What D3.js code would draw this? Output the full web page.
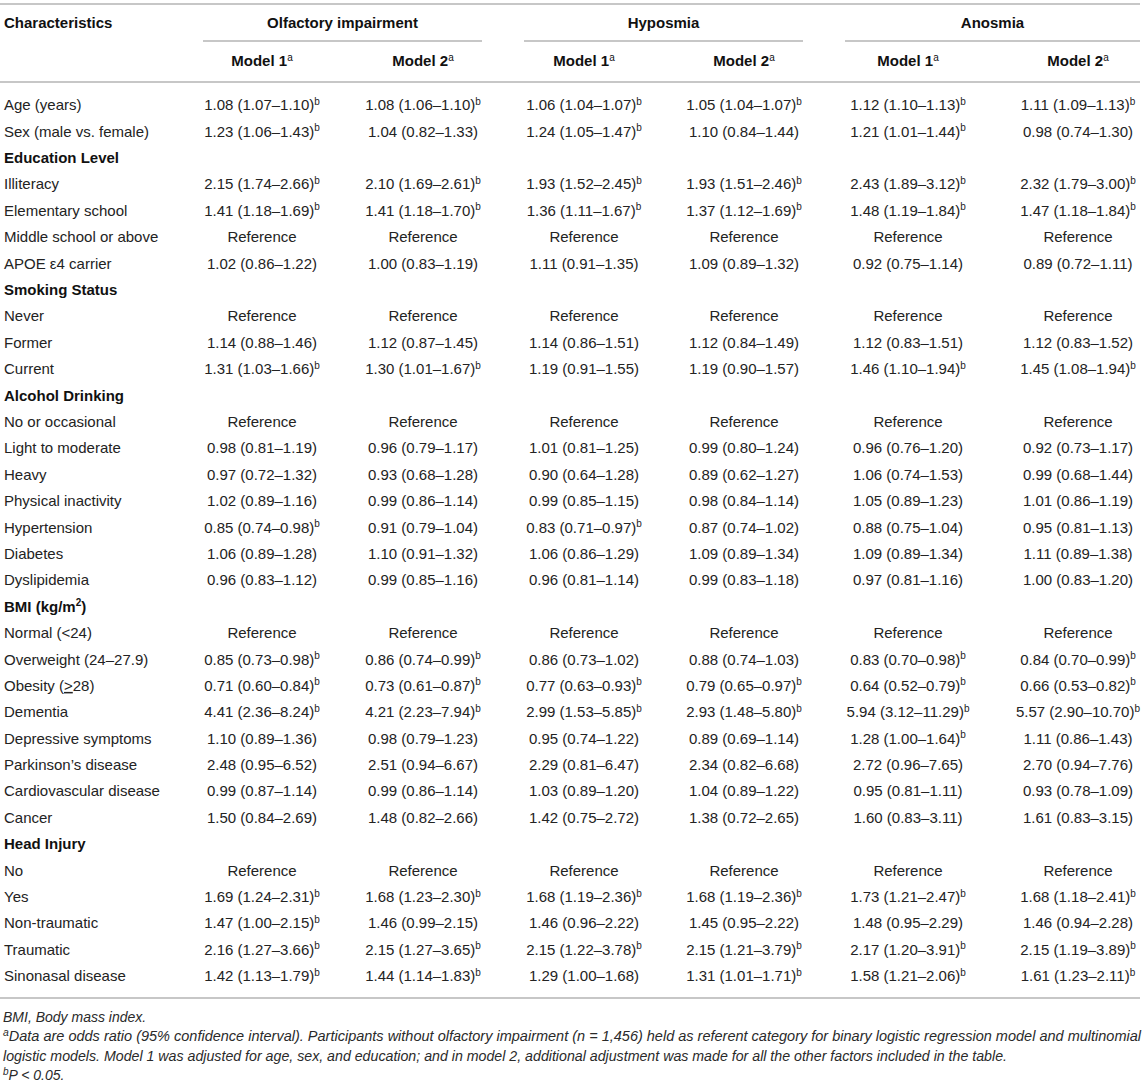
<!DOCTYPE html>
<html>
<head>
<meta charset="utf-8">
<script src="https://cdn.jsdelivr.net/npm/d3@7"></script>
<style>
  html, body { margin: 0; padding: 0; background: #fff; }
  svg { display: block; font-family: "Liberation Sans", Arial, Helvetica, sans-serif; }
</style>
</head>
<body>
<svg id="chart" width="1146" height="1084"></svg>
<script>
// ---------------- DATA ----------------
const groups = ["Olfactory impairment", "Hyposmia", "Anosmia"];
const models = ["Model 1", "Model 2"];
const columns = ["olfM1", "olfM2", "hypM1", "hypM2", "anoM1", "anoM2"];

// row labels; section headers flagged in sectionRows
const rowLabels = [
  "Age (years)", "Sex (male vs. female)", "Education Level", "Illiteracy", "Elementary school",
  "Middle school or above", "APOE \u03b54 carrier", "Smoking Status", "Never", "Former", "Current",
  "Alcohol Drinking", "No or occasional", "Light to moderate", "Heavy", "Physical inactivity",
  "Hypertension", "Diabetes", "Dyslipidemia", "BMI (kg/m2)", "Normal (<24)", "Overweight (24\u201327.9)",
  "Obesity (\u226528)", "Dementia", "Depressive symptoms", "Parkinson\u2019s disease", "Cardiovascular disease",
  "Cancer", "Head Injury", "No", "Yes", "Non-traumatic", "Traumatic", "Sinonasal disease"
];
const sectionRows = ["Education Level", "Smoking Status", "Alcohol Drinking", "BMI (kg/m2)", "Head Injury"];

// "*" marks P < 0.05 (superscript b); "R" = Reference; null = section header
const olfM1 = ["1.08 (1.07\u20131.10)*","1.23 (1.06\u20131.43)*",null,"2.15 (1.74\u20132.66)*","1.41 (1.18\u20131.69)*","R","1.02 (0.86\u20131.22)",null,"R","1.14 (0.88\u20131.46)","1.31 (1.03\u20131.66)*",null,"R","0.98 (0.81\u20131.19)","0.97 (0.72\u20131.32)","1.02 (0.89\u20131.16)","0.85 (0.74\u20130.98)*","1.06 (0.89\u20131.28)","0.96 (0.83\u20131.12)",null,"R","0.85 (0.73\u20130.98)*","0.71 (0.60\u20130.84)*","4.41 (2.36\u20138.24)*","1.10 (0.89\u20131.36)","2.48 (0.95\u20136.52)","0.99 (0.87\u20131.14)","1.50 (0.84\u20132.69)",null,"R","1.69 (1.24\u20132.31)*","1.47 (1.00\u20132.15)*","2.16 (1.27\u20133.66)*","1.42 (1.13\u20131.79)*"];
const olfM2 = ["1.08 (1.06\u20131.10)*","1.04 (0.82\u20131.33)",null,"2.10 (1.69\u20132.61)*","1.41 (1.18\u20131.70)*","R","1.00 (0.83\u20131.19)",null,"R","1.12 (0.87\u20131.45)","1.30 (1.01\u20131.67)*",null,"R","0.96 (0.79\u20131.17)","0.93 (0.68\u20131.28)","0.99 (0.86\u20131.14)","0.91 (0.79\u20131.04)","1.10 (0.91\u20131.32)","0.99 (0.85\u20131.16)",null,"R","0.86 (0.74\u20130.99)*","0.73 (0.61\u20130.87)*","4.21 (2.23\u20137.94)*","0.98 (0.79\u20131.23)","2.51 (0.94\u20136.67)","0.99 (0.86\u20131.14)","1.48 (0.82\u20132.66)",null,"R","1.68 (1.23\u20132.30)*","1.46 (0.99\u20132.15)","2.15 (1.27\u20133.65)*","1.44 (1.14\u20131.83)*"];
const hypM1 = ["1.06 (1.04\u20131.07)*","1.24 (1.05\u20131.47)*",null,"1.93 (1.52\u20132.45)*","1.36 (1.11\u20131.67)*","R","1.11 (0.91\u20131.35)",null,"R","1.14 (0.86\u20131.51)","1.19 (0.91\u20131.55)",null,"R","1.01 (0.81\u20131.25)","0.90 (0.64\u20131.28)","0.99 (0.85\u20131.15)","0.83 (0.71\u20130.97)*","1.06 (0.86\u20131.29)","0.96 (0.81\u20131.14)",null,"R","0.86 (0.73\u20131.02)","0.77 (0.63\u20130.93)*","2.99 (1.53\u20135.85)*","0.95 (0.74\u20131.22)","2.29 (0.81\u20136.47)","1.03 (0.89\u20131.20)","1.42 (0.75\u20132.72)",null,"R","1.68 (1.19\u20132.36)*","1.46 (0.96\u20132.22)","2.15 (1.22\u20133.78)*","1.29 (1.00\u20131.68)"];
const hypM2 = ["1.05 (1.04\u20131.07)*","1.10 (0.84\u20131.44)",null,"1.93 (1.51\u20132.46)*","1.37 (1.12\u20131.69)*","R","1.09 (0.89\u20131.32)",null,"R","1.12 (0.84\u20131.49)","1.19 (0.90\u20131.57)",null,"R","0.99 (0.80\u20131.24)","0.89 (0.62\u20131.27)","0.98 (0.84\u20131.14)","0.87 (0.74\u20131.02)","1.09 (0.89\u20131.34)","0.99 (0.83\u20131.18)",null,"R","0.88 (0.74\u20131.03)","0.79 (0.65\u20130.97)*","2.93 (1.48\u20135.80)*","0.89 (0.69\u20131.14)","2.34 (0.82\u20136.68)","1.04 (0.89\u20131.22)","1.38 (0.72\u20132.65)",null,"R","1.68 (1.19\u20132.36)*","1.45 (0.95\u20132.22)","2.15 (1.21\u20133.79)*","1.31 (1.01\u20131.71)*"];
const anoM1 = ["1.12 (1.10\u20131.13)*","1.21 (1.01\u20131.44)*",null,"2.43 (1.89\u20133.12)*","1.48 (1.19\u20131.84)*","R","0.92 (0.75\u20131.14)",null,"R","1.12 (0.83\u20131.51)","1.46 (1.10\u20131.94)*",null,"R","0.96 (0.76\u20131.20)","1.06 (0.74\u20131.53)","1.05 (0.89\u20131.23)","0.88 (0.75\u20131.04)","1.09 (0.89\u20131.34)","0.97 (0.81\u20131.16)",null,"R","0.83 (0.70\u20130.98)*","0.64 (0.52\u20130.79)*","5.94 (3.12\u201311.29)*","1.28 (1.00\u20131.64)*","2.72 (0.96\u20137.65)","0.95 (0.81\u20131.11)","1.60 (0.83\u20133.11)",null,"R","1.73 (1.21\u20132.47)*","1.48 (0.95\u20132.29)","2.17 (1.20\u20133.91)*","1.58 (1.21\u20132.06)*"];
const anoM2 = ["1.11 (1.09\u20131.13)*","0.98 (0.74\u20131.30)",null,"2.32 (1.79\u20133.00)*","1.47 (1.18\u20131.84)*","R","0.89 (0.72\u20131.11)",null,"R","1.12 (0.83\u20131.52)","1.45 (1.08\u20131.94)*",null,"R","0.92 (0.73\u20131.17)","0.99 (0.68\u20131.44)","1.01 (0.86\u20131.19)","0.95 (0.81\u20131.13)","1.11 (0.89\u20131.38)","1.00 (0.83\u20131.20)",null,"R","0.84 (0.70\u20130.99)*","0.66 (0.53\u20130.82)*","5.57 (2.90\u201310.70)*","1.11 (0.86\u20131.43)","2.70 (0.94\u20137.76)","0.93 (0.78\u20131.09)","1.61 (0.83\u20133.15)",null,"R","1.68 (1.18\u20132.41)*","1.46 (0.94\u20132.28)","2.15 (1.19\u20133.89)*","1.61 (1.23\u20132.11)*"];

const footnotes = [
  {sup: "", text: "BMI, Body mass index."},
  {sup: "a", text: "Data are odds ratio (95% confidence interval). Participants without olfactory impairment (n = 1,456) held as referent category for binary logistic regression model and multinomial"},
  {sup: "", text: "logistic models. Model 1 was adjusted for age, sex, and education; and in model 2, additional adjustment was made for all the other factors included in the table."},
  {sup: "b", text: "P < 0.05."}
];

// ---------------- LAYOUT ----------------
const svg = d3.select("#chart");
const ruleColor = "#b4b4b4";
const textColor = "#232323";
const FS = 15;

const colValues = {olfM1, olfM2, hypM1, hypM2, anoM1, anoM2};
const colX = d3.scaleOrdinal().domain(columns).range([262, 423, 584, 744, 908, 1078]);
const groupSpan = d3.scaleOrdinal().domain(groups).range([[203, 482], [524, 803], [845, 1140]]);
const rowY = d3.scalePoint().domain(d3.range(rowLabels.length)).range([105, 976]);

// horizontal rules
const rules = [4, 82, 998];
svg.selectAll("line.rule").data(rules).join("line")
  .attr("class", "rule")
  .attr("x1", 0).attr("x2", 1140)
  .attr("y1", d => d).attr("y2", d => d)
  .attr("stroke", ruleColor).attr("stroke-width", 1.6);

// group underlines
svg.selectAll("line.grp").data(groups).join("line")
  .attr("class", "grp")
  .attr("x1", d => groupSpan(d)[0]).attr("x2", d => groupSpan(d)[1])
  .attr("y1", 41).attr("y2", 41)
  .attr("stroke", ruleColor).attr("stroke-width", 1.6);

// header texts
svg.append("text").attr("x", 4).attr("y", 23).attr("dy", "0.35em")
  .attr("font-size", FS).attr("font-weight", "bold").attr("fill", "#111")
  .text("Characteristics");

svg.selectAll("text.grp").data(groups).join("text")
  .attr("class", "grp")
  .attr("x", d => (groupSpan(d)[0] + groupSpan(d)[1]) / 2)
  .attr("y", 23).attr("dy", "0.35em")
  .attr("text-anchor", "middle")
  .attr("font-size", FS).attr("font-weight", "bold").attr("fill", "#111")
  .text(d => d);

const modelHeads = svg.selectAll("text.model").data(columns).join("text")
  .attr("class", "model")
  .attr("x", d => colX(d))
  .attr("y", 61).attr("dy", "0.35em")
  .attr("text-anchor", "middle")
  .attr("font-size", FS).attr("font-weight", "bold").attr("fill", "#111");
modelHeads.append("tspan").text((d, i) => models[i % 2]);
modelHeads.append("tspan").attr("font-size", 10).attr("font-weight", "normal")
  .attr("dy", -5.5).text("a");

// row labels
const labels = svg.selectAll("text.rowlab").data(rowLabels).join("text")
  .attr("class", "rowlab")
  .attr("x", 4)
  .attr("y", (d, i) => rowY(i)).attr("dy", "0.35em")
  .attr("font-size", FS)
  .attr("font-weight", d => sectionRows.includes(d) ? "bold" : "normal")
  .attr("fill", d => sectionRows.includes(d) ? "#111" : textColor);
labels.each(function(d) {
  const t = d3.select(this);
  if (d === "BMI (kg/m2)") {
    t.append("tspan").text("BMI (kg/m");
    t.append("tspan").attr("font-size", 10).attr("dy", -5.5).text("2");
    t.append("tspan").attr("dy", 5.5).text(")");
  } else if (d === "Obesity (\u226528)") {
    t.append("tspan").text("Obesity (");
    t.append("tspan").attr("text-decoration", "underline").text(">");
    t.append("tspan").text("28)");
  } else {
    t.text(d);
  }
});

// cells
const cells = [];
columns.forEach(c => {
  colValues[c].forEach((v, i) => { if (v !== null) cells.push({c, i, v}); });
});
const cellText = svg.selectAll("text.cell").data(cells).join("text")
  .attr("class", "cell")
  .attr("x", d => colX(d.c))
  .attr("y", d => rowY(d.i)).attr("dy", "0.35em")
  .attr("text-anchor", "middle")
  .attr("font-size", FS).attr("fill", textColor);
cellText.each(function(d) {
  const t = d3.select(this);
  if (d.v === "R") { t.text("Reference"); return; }
  const sig = d.v.endsWith("*");
  t.append("tspan").text(sig ? d.v.slice(0, -1) : d.v);
  if (sig) t.append("tspan").attr("font-size", 10).attr("dy", -5.5).text("b");
});

// footnotes (y = baseline)
const fnY = d3.scalePoint().domain(d3.range(footnotes.length)).range([1017, 1075]);
const fnWidths = [null, 1138, 1004, null];
const fn = svg.selectAll("text.fn").data(footnotes).join("text")
  .attr("class", "fn")
  .attr("x", 3)
  .attr("y", (d, i) => fnY(i) + 5)
  .attr("font-size", 14).attr("font-style", "italic").attr("fill", "#2a2a2a");
fn.each(function(d, i) {
  const t = d3.select(this);
  if (d.sup) t.append("tspan").attr("font-size", 10).attr("dy", -5).text(d.sup);
  t.append("tspan").attr("dy", d.sup ? 5 : null).text(d.text);
  if (fnWidths[i]) {
    t.attr("textLength", fnWidths[i]).attr("lengthAdjust", "spacingAndGlyphs");
  }
});
</script>
</body>
</html>
